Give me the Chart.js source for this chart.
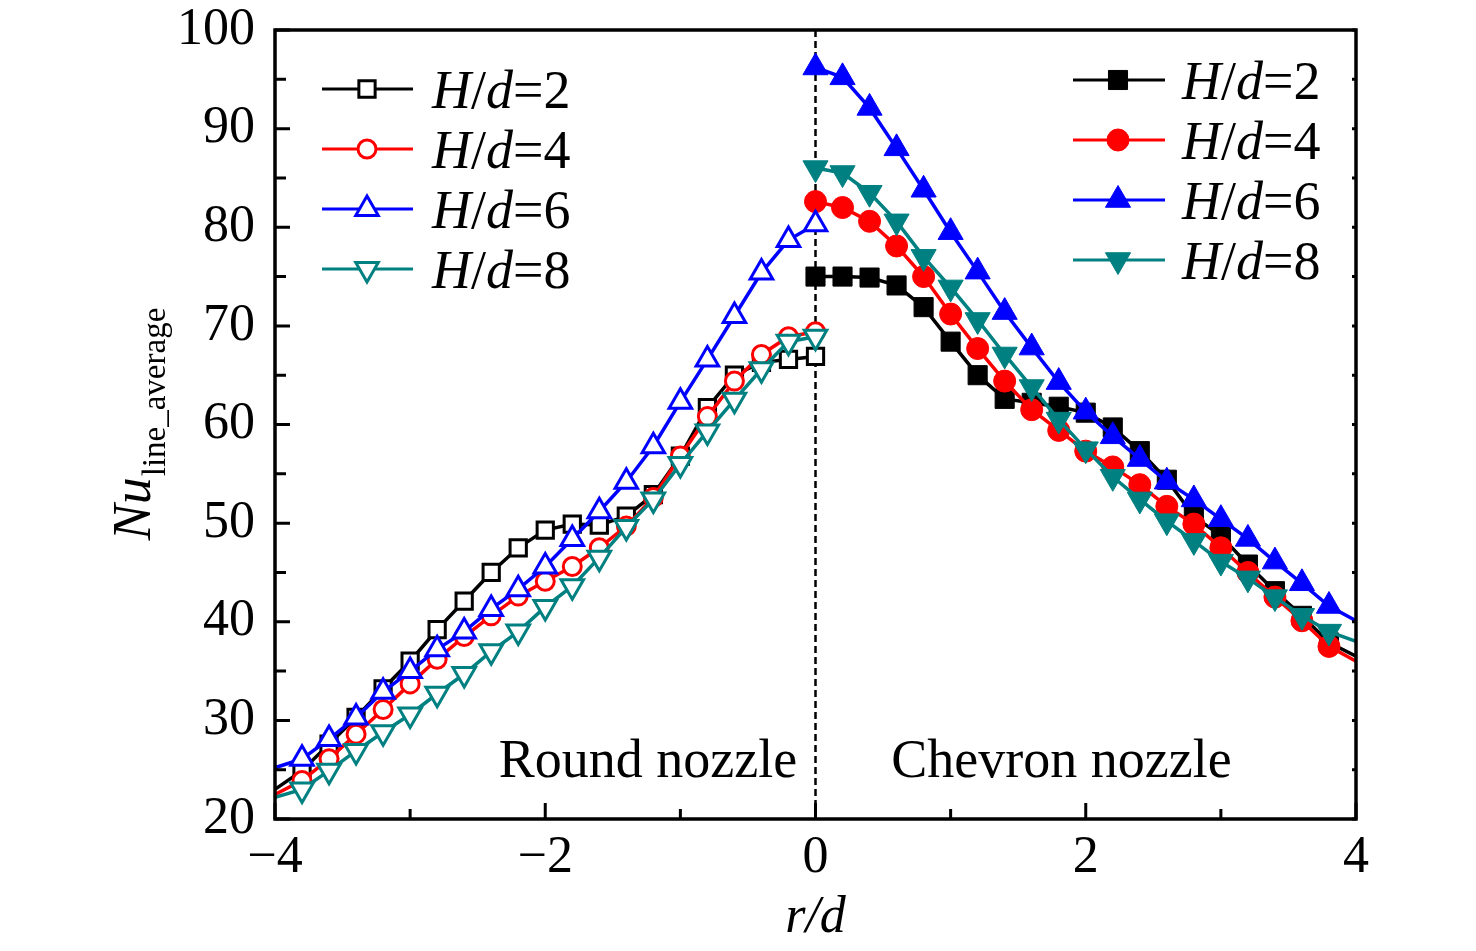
<!DOCTYPE html>
<html>
<head>
<meta charset="utf-8">
<script src="https://cdn.jsdelivr.net/npm/chart.js@4.4.1/dist/chart.umd.min.js"></script>
<style>
html, body { margin: 0; padding: 0; background: #fff; }
canvas { display: block; }
</style>
</head>
<body>
<canvas id="chart" width="1476" height="951"></canvas>
<script>
// r/d positions (round nozzle on the left, chevron nozzle on the right)
var rdRound   = [-4, -3.8, -3.6, -3.4, -3.2, -3, -2.8, -2.6, -2.4, -2.2, -2, -1.8, -1.6, -1.4, -1.2, -1, -0.8, -0.6, -0.4, -0.2, 0];
var rdChevron = [0, 0.2, 0.4, 0.6, 0.8, 1, 1.2, 1.4, 1.6, 1.8, 2, 2.2, 2.4, 2.6, 2.8, 3, 3.2, 3.4, 3.6, 3.8, 4];

// Nu_line_average, round nozzle
var roundH2 = [23.0, 24.9, 27.6, 30.3, 33.2, 36.0, 39.2, 42.1, 45.0, 47.5, 49.3, 49.9, 49.8, 50.7, 52.9, 56.8, 61.7, 65.0, 66.3, 66.6, 66.9];
var roundH4 = [22.5, 23.9, 26.1, 28.6, 31.1, 33.7, 36.2, 38.5, 40.6, 42.6, 44.1, 45.6, 47.5, 49.7, 52.6, 56.8, 60.8, 64.4, 67.1, 68.9, 69.4];
var roundH6 = [25.2, 26.1, 28.1, 30.3, 32.9, 35.0, 37.2, 39.0, 41.3, 43.3, 45.6, 48.4, 51.2, 54.2, 57.8, 62.3, 66.6, 71.0, 75.4, 78.7, 80.3];
var roundH8 = [22.2, 23.0, 24.9, 26.9, 28.8, 30.6, 32.7, 34.7, 37.0, 39.0, 41.5, 43.6, 46.5, 49.6, 52.4, 56.0, 59.3, 62.5, 65.6, 68.4, 68.9];

// Nu_line_average, chevron nozzle
var chevronH2 = [75.0, 75.0, 74.9, 74.1, 71.9, 68.4, 65.0, 62.6, 62.2, 61.8, 61.2, 59.7, 57.3, 54.4, 50.7, 48.7, 45.8, 43.1, 40.6, 37.9, 36.5];
var chevronH4 = [82.6, 82.0, 80.6, 78.1, 75.0, 71.2, 67.7, 64.4, 61.5, 59.4, 57.3, 55.7, 53.9, 51.7, 49.9, 47.5, 45.0, 42.5, 40.1, 37.5, 36.0];
var chevronH6 = [96.2, 95.2, 92.1, 88.0, 83.8, 79.5, 75.5, 71.4, 67.8, 64.3, 61.3, 58.8, 56.5, 54.2, 52.4, 50.4, 48.4, 46.1, 43.9, 41.6, 40.1];
var chevronH8 = [86.0, 85.5, 83.5, 80.6, 77.0, 73.9, 70.6, 67.1, 63.8, 60.5, 57.5, 54.7, 52.4, 50.2, 48.2, 46.1, 44.4, 42.5, 40.6, 39.0, 38.0];

var hdValues = [2, 4, 6, 8];
var xTicks = [-4, -2, 0, 2, 4];
var yTicks = [20, 30, 40, 50, 60, 70, 80, 90, 100];

var colors = ['#000000', '#ff0000', '#0000ff', '#008080'];
var shapes = ['rect', 'circle', 'triangle', 'triangleDown'];
var openRadius = [11.5, 9, 13, 13];
var fullRadius = [13.5, 11, 14.5, 14.5];
var FONT = "'Liberation Serif', 'Times New Roman', serif";

var roundSeries = [roundH2, roundH4, roundH6, roundH8];
var chevronSeries = [chevronH2, chevronH4, chevronH6, chevronH8];

function toPoints(xs, ys) {
  return xs.map(function (x, k) { return { x: x, y: ys[k] }; });
}

var datasets = [];
hdValues.forEach(function (h, i) {
  var style = shapes[i] === 'triangleDown' ? 'triangle' : shapes[i];
  var rot = shapes[i] === 'triangleDown' ? 180 : 0;
  datasets.push({
    label: 'Round H/d=' + h,
    data: toPoints(rdRound, roundSeries[i]),
    borderColor: colors[i],
    borderWidth: 3.5,
    pointStyle: style,
    pointRotation: rot,
    pointBackgroundColor: '#ffffff',
    pointBorderColor: colors[i],
    pointBorderWidth: 3,
    pointRadius: rdRound.map(function (x) { return x === -4 ? 0 : openRadius[i]; }),
    tension: 0,
    order: 4 - i
  });
  datasets.push({
    label: 'Chevron H/d=' + h,
    data: toPoints(rdChevron, chevronSeries[i]),
    borderColor: colors[i],
    borderWidth: 3.5,
    pointStyle: style,
    pointRotation: rot,
    pointBackgroundColor: colors[i],
    pointBorderColor: colors[i],
    pointBorderWidth: 1,
    pointRadius: rdChevron.map(function (x) { return x === 4 ? 0 : fullRadius[i]; }),
    tension: 0,
    order: 4 - i
  });
});

function drawMarker(ctx, shape, x, y, r, fill, stroke, lw) {
  ctx.save();
  ctx.beginPath();
  if (shape === 'circle') {
    ctx.arc(x, y, r, 0, Math.PI * 2);
  } else if (shape === 'rect') {
    var s = r * Math.SQRT1_2;
    ctx.rect(x - s, y - s, 2 * s, 2 * s);
  } else {
    var d = shape === 'triangle' ? 1 : -1;
    ctx.moveTo(x, y - d * r);
    ctx.lineTo(x + r * 0.866, y + d * r / 2);
    ctx.lineTo(x - r * 0.866, y + d * r / 2);
    ctx.closePath();
  }
  ctx.fillStyle = fill;
  ctx.fill();
  ctx.lineWidth = lw;
  ctx.strokeStyle = stroke;
  ctx.stroke();
  ctx.restore();
}

function hdLabel(ctx, x, y, h) {
  var parts = [['H', 'italic'], ['/', 'normal'], ['d', 'italic'], ['=' + h, 'normal']];
  ctx.textAlign = 'left';
  ctx.textBaseline = 'alphabetic';
  parts.forEach(function (p) {
    ctx.font = p[1] + ' 54px ' + FONT;
    ctx.fillText(p[0], x, y);
    x += ctx.measureText(p[0]).width;
  });
}

var decorations = {
  id: 'decorations',
  beforeDatasetsDraw: function (chart) {
    var ctx = chart.ctx, a = chart.chartArea, xs = chart.scales.x;
    var x0 = xs.getPixelForValue(0);
    ctx.save();
    ctx.strokeStyle = '#000';
    ctx.lineWidth = 2.5;
    ctx.setLineDash([7, 4]);
    ctx.beginPath();
    ctx.moveTo(x0, a.top);
    ctx.lineTo(x0, a.bottom);
    ctx.stroke();
    ctx.restore();
  },
  afterDatasetsDraw: function (chart) {
    var ctx = chart.ctx, a = chart.chartArea;
    var xs = chart.scales.x, ys = chart.scales.y;
    ctx.save();

    // frame
    ctx.strokeStyle = '#000';
    ctx.lineWidth = 3.5;
    ctx.strokeRect(a.left, a.top, a.right - a.left, a.bottom - a.top);

    // inward ticks
    ctx.lineWidth = 3;
    ctx.beginPath();
    for (var v = -4; v <= 4; v += 1) {
      var px = xs.getPixelForValue(v);
      var len = (v % 2 === 0) ? 16 : 10;
      ctx.moveTo(px, a.bottom);
      ctx.lineTo(px, a.bottom - len);
    }
    for (var w = 20; w <= 100; w += 5) {
      var py = ys.getPixelForValue(w);
      var l2 = (w % 10 === 0) ? 15 : 11;
      ctx.moveTo(a.left, py);
      ctx.lineTo(a.left + l2, py);
      ctx.moveTo(a.right, py);
      ctx.lineTo(a.right - 4, py);
    }
    ctx.stroke();

    // legends
    hdValues.forEach(function (h, i) {
      var ly = a.top + 59 + i * 60;
      ctx.strokeStyle = colors[i];
      ctx.lineWidth = 3;
      ctx.beginPath();
      ctx.moveTo(a.left + 47, ly);
      ctx.lineTo(a.left + 138, ly);
      ctx.stroke();
      drawMarker(ctx, shapes[i], a.left + 92, ly, openRadius[i], '#fff', colors[i], 3);
      ctx.fillStyle = '#000';
      hdLabel(ctx, a.left + 157, ly + 19, h);

      var ry = a.top + 50 + i * 60;
      ctx.strokeStyle = colors[i];
      ctx.lineWidth = 3;
      ctx.beginPath();
      ctx.moveTo(a.right - 283, ry);
      ctx.lineTo(a.right - 191, ry);
      ctx.stroke();
      drawMarker(ctx, shapes[i], a.right - 238, ry, fullRadius[i], colors[i], colors[i], 1);
      ctx.fillStyle = '#000';
      hdLabel(ctx, a.right - 174, ry + 19, h);
    });

    // region labels
    ctx.fillStyle = '#000';
    ctx.font = '54px ' + FONT;
    ctx.textAlign = 'center';
    ctx.textBaseline = 'alphabetic';
    ctx.fillText('Round nozzle', xs.getPixelForValue(-1.24), ys.getPixelForValue(24.3));
    ctx.fillText('Chevron nozzle', xs.getPixelForValue(1.82), ys.getPixelForValue(24.3));

    // x title
    ctx.font = 'italic 52px ' + FONT;
    ctx.fillText('r/d', (a.left + a.right) / 2, 932);

    // y title
    ctx.translate(150, (a.top + a.bottom) / 2);
    ctx.rotate(-Math.PI / 2);
    ctx.textAlign = 'left';
    ctx.font = 'italic 54px ' + FONT;
    var wNu = ctx.measureText('Nu').width;
    ctx.font = '33px ' + FONT;
    var wSub = ctx.measureText('line_average').width;
    var start = -(wNu + wSub) / 2;
    ctx.font = 'italic 54px ' + FONT;
    ctx.fillText('Nu', start, 0);
    ctx.font = '33px ' + FONT;
    ctx.fillText('line_average', start + wNu + 1, 15);
    ctx.restore();
  }
};

new Chart(document.getElementById('chart'), {
  type: 'line',
  data: { datasets: datasets },
  options: {
    responsive: false,
    devicePixelRatio: 1,
    animation: false,
    events: [],
    layout: { padding: { left: 0, top: 30, right: 120, bottom: 0 } },
    plugins: { legend: { display: false }, tooltip: { enabled: false } },
    scales: {
      x: {
        type: 'linear',
        min: -4, max: 4,
        afterFit: function (s) { s.height = 132; s.paddingLeft = 0; s.paddingRight = 0; },
        afterBuildTicks: function (s) { s.ticks = xTicks.map(function (v) { return { value: v }; }); },
        grid: { display: false },
        border: { display: false },
        ticks: {
          font: { family: FONT, size: 52 },
          color: '#000',
          padding: 0,
          maxRotation: 0,
          autoSkip: false,
          callback: function (v) { return String(v).replace('-', '\u2212'); }
        }
      },
      y: {
        min: 20, max: 100,
        afterFit: function (s) { s.width = 275; s.paddingTop = 0; s.paddingBottom = 0; },
        afterBuildTicks: function (s) { s.ticks = yTicks.map(function (v) { return { value: v }; }); },
        grid: { display: false },
        border: { display: false },
        ticks: {
          font: { family: FONT, size: 52 },
          color: '#000',
          padding: 12,
          autoSkip: false
        }
      }
    }
  },
  plugins: [decorations]
});
</script>
</body>
</html>
